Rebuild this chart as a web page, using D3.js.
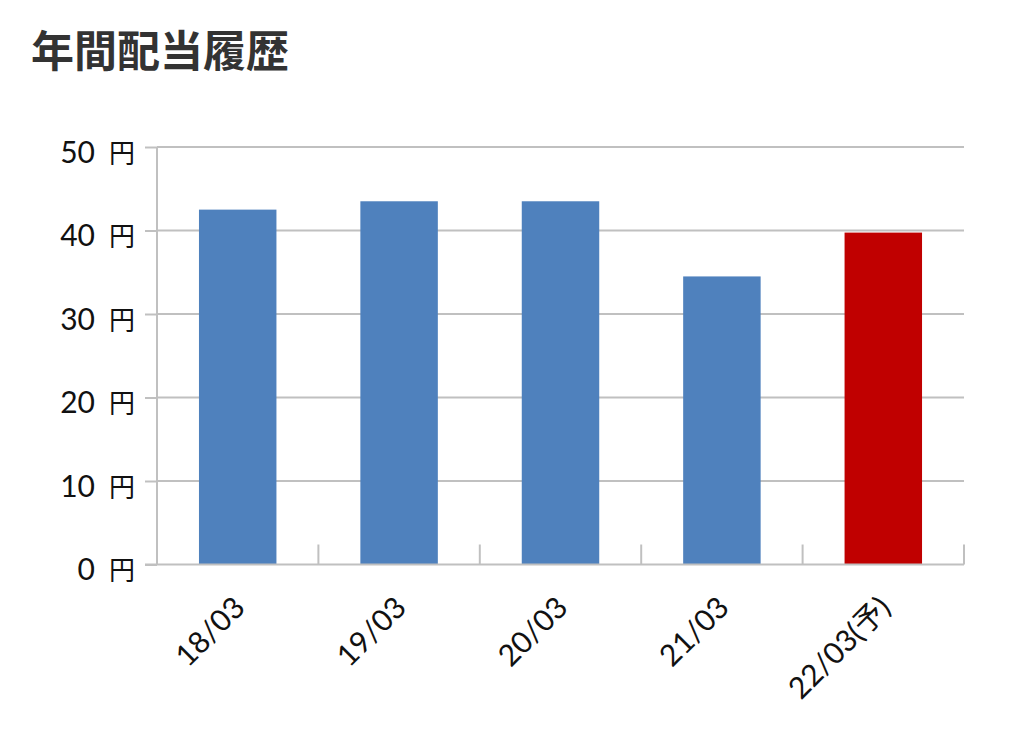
<!DOCTYPE html>
<html><head><meta charset="utf-8">
<script src="https://cdn.jsdelivr.net/npm/d3@7/dist/d3.min.js"></script>
<style>
body{margin:0;background:#fff;}
svg text{font-family:Lato,"Noto Sans CJK JP",sans-serif;fill:#111;}
</style></head>
<body><svg id="c" width="1024" height="730"></svg>
<script>
const title = "年間配当履歴";
const categories = ["18/03","19/03","20/03","21/03","22/03(予)"];
const dividends = [42.5, 43.5, 43.5, 34.5, 39.75];
const forecastFlags = [false, false, false, false, true];
const yTicks = [0,10,20,30,40,50];
const unit = "円";

const svg = d3.select("#c");
const pL = 157, pR = 964, pT = 147, pB = 564.5;
const x = d3.scaleBand().domain(categories).range([pL, pR]).paddingInner(0.52).paddingOuter(0.26);
const xb = d3.scaleBand().domain(categories).range([pL, pR]);
const y = d3.scaleLinear().domain([0, 50]).range([pB, pT]);
const grid = "#c0c0c0";

svg.append("text").attr("x", 31).attr("y", 67)
  .style("font-family", '"Noto Sans CJK JP",sans-serif')
  .style("font-weight", "bold").style("font-size", "43px").style("fill", "#333")
  .text(title);

// gridlines
svg.append("g").selectAll("line").data(yTicks.filter(d => d > 0)).join("line")
  .attr("x1", pL).attr("x2", pR).attr("y1", d => y(d)).attr("y2", d => y(d))
  .attr("stroke", grid).attr("stroke-width", 2);

// bars
svg.append("g").selectAll("rect").data(dividends).join("rect")
  .attr("x", (d, i) => x(categories[i]))
  .attr("width", x.bandwidth())
  .attr("y", d => y(d))
  .attr("height", d => y(0) - y(d))
  .attr("fill", (d, i) => forecastFlags[i] ? "#c00000" : "#4f81bd");

// y axis
const yAxis = d3.axisLeft(y).tickValues(yTicks).tickSize(12).tickPadding(10)
  .tickFormat(d => d);
const gy = svg.append("g").attr("transform", `translate(${pL},0)`).call(yAxis);
gy.select(".domain").attr("stroke", grid).attr("stroke-width", 2).attr("d", `M0,${pT}V${pB}`);
gy.selectAll(".tick line").attr("stroke", grid).attr("stroke-width", 2);
gy.selectAll(".tick text").attr("fill", "#111").attr("dy", 15).style("font-size", "30px").each(function(d) {
  const t = d3.select(this).text("");
  t.append("tspan").style("font-size", "30px").style("font-family", "Lato").text(d);
  t.append("tspan").attr("dx", 14).style("font-size", "26px")
    .style("font-family", '"Noto Sans CJK JP"').text(unit);
});

// x axis
const gx = svg.append("g").attr("transform", `translate(0,${pB})`);
gx.append("line").attr("x1", pL - 12).attr("x2", pR).attr("y1", 0).attr("y2", 0)
  .attr("stroke", grid).attr("stroke-width", 2);
gx.selectAll(".sep").data(categories).join("line").attr("class", "sep")
  .attr("x1", d => xb(d) + xb.bandwidth()).attr("x2", d => xb(d) + xb.bandwidth())
  .attr("y1", 0).attr("y2", -20).attr("stroke", grid).attr("stroke-width", 2);
gx.selectAll(".lbl").data(categories).join("text").attr("class", "lbl")
  .attr("text-anchor", "end")
  .attr("transform", d => `translate(${xb(d) + xb.bandwidth() / 2 + 9},45) rotate(-45)`)
  .style("font-size", "30px")
  .text(d => d);
</script></body></html>
